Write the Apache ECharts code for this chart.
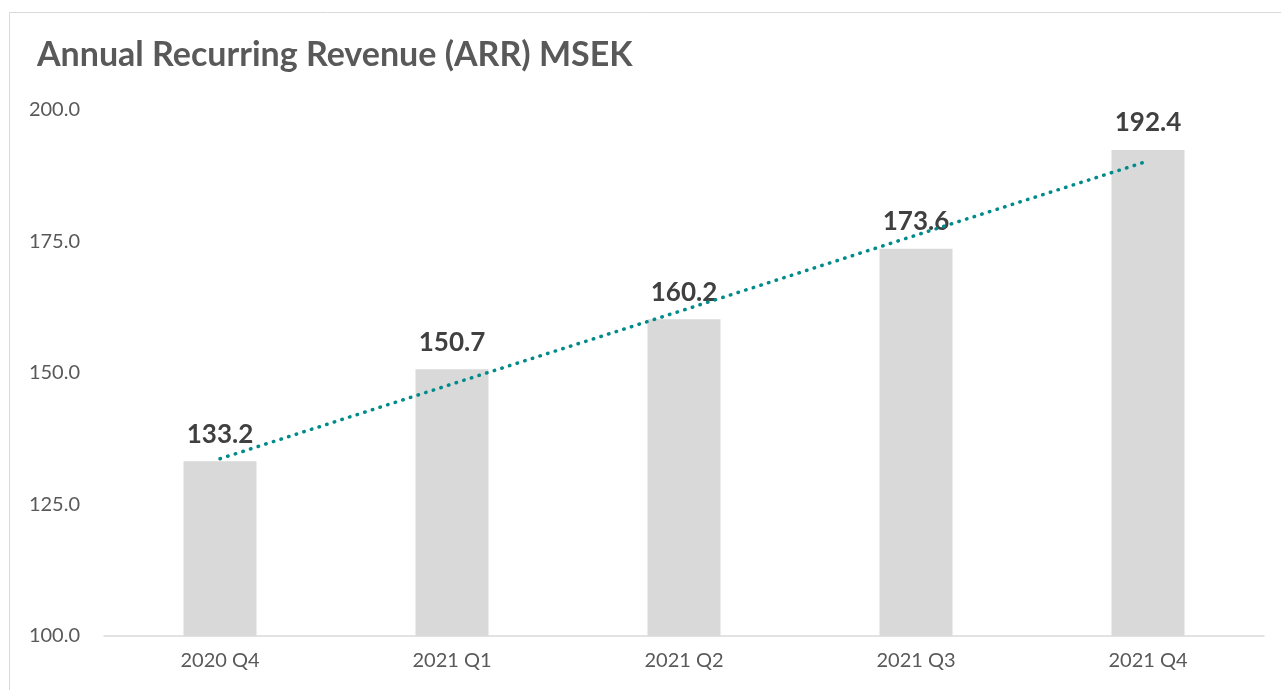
<!DOCTYPE html>
<html><head><meta charset="utf-8">
<script src="https://cdn.jsdelivr.net/npm/echarts@6/dist/echarts.min.js"></script>
<style>html,body{margin:0;padding:0;background:#fff}#c{width:1281px;height:690px}</style>
</head><body><div id="c"></div>
<script>
const categories = ['2020 Q4','2021 Q1','2021 Q2','2021 Q3','2021 Q4'];
const arrValues = [133.2,150.7,160.2,173.6,192.4];
const trendValues = [133.7,147.9,162.0,176.2,190.3];
const yTicks = [100,125,150,175,200];

const chart = echarts.init(document.getElementById('c'));
chart.setOption({
  animation:false,
  backgroundColor:'#fff',
  title:{text:'Annual Recurring Revenue (ARR) MSEK',left:32,top:33,
    textStyle:{fontFamily:'Lato',fontWeight:'bold',fontSize:34,color:'#595959'}},
  graphic:[{type:'rect',shape:{x:9.5,y:12.5,width:1300,height:700},
    style:{fill:'none',stroke:'#d9d9d9',lineWidth:1},silent:true}],
  grid:{left:104,right:17,top:110,bottom:54},
  xAxis:{type:'category',data:categories,
    axisLine:{lineStyle:{color:'#d9d9d9',width:1.5}},axisTick:{show:false},
    axisLabel:{fontFamily:'Lato',fontSize:20,color:'#595959',margin:15}},
  yAxis:{type:'value',min:yTicks[0],max:yTicks[yTicks.length-1],interval:25,
    splitLine:{show:false},axisLine:{show:false},axisTick:{show:false},
    axisLabel:{fontFamily:'Lato',fontSize:20,color:'#595959',margin:24,
      formatter:v=>v.toFixed(1)}},
  series:[
    {type:'bar',data:arrValues,barWidth:73,itemStyle:{color:'#d9d9d9'},
     label:{show:true,position:'top',distance:14,fontFamily:'Lato',fontWeight:'bold',fontSize:26,color:'#404040',
       formatter:p=>p.value.toFixed(1)}},
    {type:'line',data:trendValues,symbol:'none',z:5,
     lineStyle:{color:'#008b8b',width:3.5,type:[0.5,7.5],cap:'round'}}
  ]
});
</script></body></html>
